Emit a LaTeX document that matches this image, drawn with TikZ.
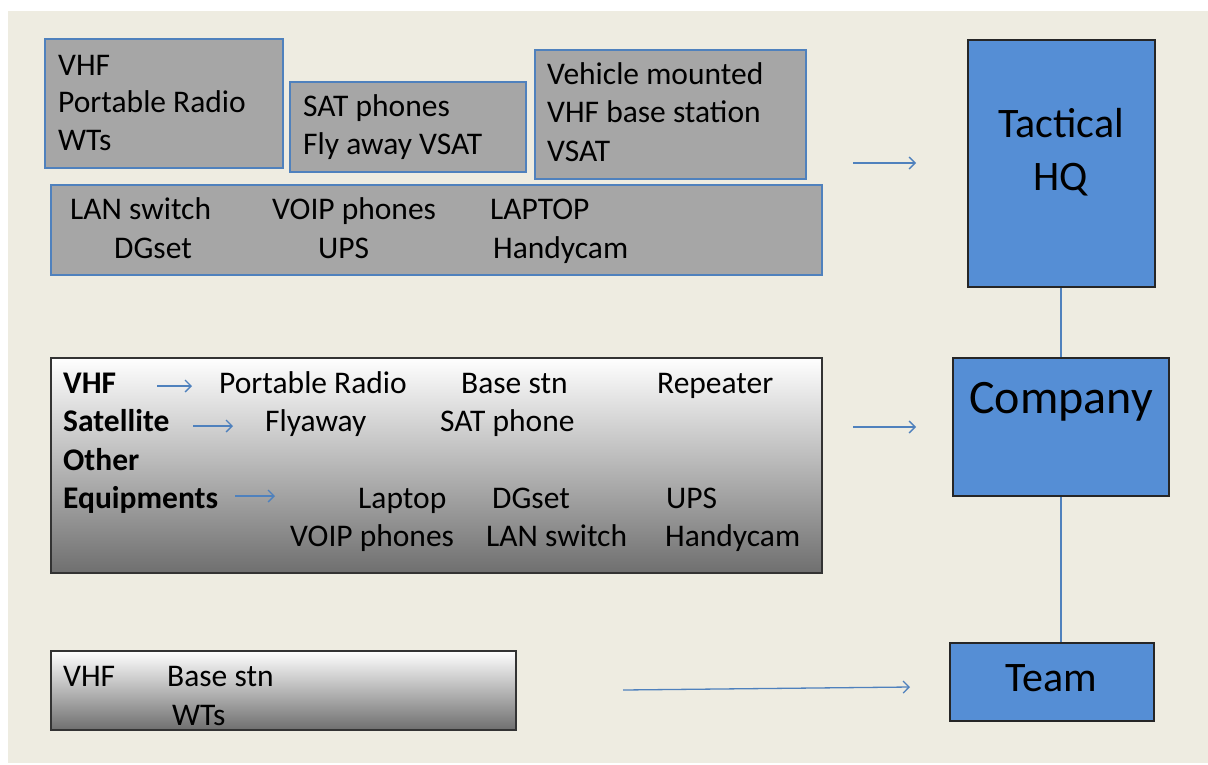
\documentclass[tikz,border=0pt]{standalone}
\usepackage{fontspec}
\setmainfont{Carlito}
\usetikzlibrary{arrows.meta}
\definecolor{bgtan}{HTML}{EEECE1}
\definecolor{boxgray}{HTML}{A6A6A6}
\definecolor{edgeblue}{HTML}{4F81BD}
\definecolor{fillblue}{HTML}{558ED5}
\definecolor{gradbot}{HTML}{6F6F6F}
\begin{document}
\begin{tikzpicture}[x=1pt,y=-1pt,
  graybox/.style={draw=edgeblue, line width=1.5pt, fill=boxgray, anchor=north west, inner sep=0pt},
  gradbox/.style={draw=black!80, line width=1.5pt, top color=white, bottom color=gradbot, anchor=north west, inner sep=0pt},
  bluebox/.style={draw=black!85, line width=2pt, fill=fillblue, anchor=north west, inner sep=0pt},
  txt/.style={anchor=base west, inner sep=0pt, font=\fontsize{31.5}{38}\selectfont},
  btxt/.style={txt, font=\fontsize{31.5}{38}\selectfont\bfseries},
  big/.style={anchor=base, inner sep=0pt, font=\fontsize{42}{50}\selectfont},
  arr/.style={draw=edgeblue, line width=1.3pt, -{Straight Barb[length=6pt,width=12pt]}},
  link/.style={draw=edgeblue, line width=1.5pt}]
\useasboundingbox (0,0) rectangle (1208,764);
\fill[white] (0,0) rectangle (1208,764);
\fill[bgtan] (8,11) rectangle (1208,763);

% top gray boxes
\node[graybox, minimum width=238pt, minimum height=129pt] (b1) at (44,38) {};
\node[graybox, minimum width=236pt, minimum height=90pt] (b2) at (289,81) {};
\node[graybox, minimum width=271pt, minimum height=129pt] (b3) at (534,49) {};
\node[graybox, minimum width=771pt, minimum height=90pt] (b4) at (50,184) {};

\node[txt] (t1a) at (58,75) {VHF};
\node[txt] (t1b) at (58,112) {Portable Radio};
\node[txt] (t1c) at (58,150) {WTs};

\node[txt] (t2a) at (303,116) {SAT phones};
\node[txt] (t2b) at (303,154) {Fly away VSAT};

\node[txt] (t3a) at (547,84) {Vehicle mounted};
\node[txt] (t3b) at (547,122) {VHF base station};
\node[txt] (t3c) at (547,161) {VSAT};

\node[txt] (t4a) at (70,219) {LAN switch};
\node[txt] (t4b) at (272,219) {VOIP phones};
\node[txt] (t4c) at (490,219) {LAPTOP};
\node[txt] (t4d) at (114,258) {DGset};
\node[txt] (t4e) at (318,258) {UPS};
\node[txt] (t4f) at (493,258) {Handycam};

% middle gradient box
\node[gradbox, minimum width=771pt, minimum height=215pt] (b5) at (50,357) {};
\node[btxt] (v5) at (63,393) {VHF};
\node[txt] (v5a) at (219,393) {Portable Radio};
\node[txt] (v5b) at (461,393) {Base stn};
\node[txt] (v5c) at (657,393) {Repeater};
\node[btxt] (s5) at (63,431) {Satellite};
\node[txt] (s5a) at (265,431) {Flyaway};
\node[txt] (s5b) at (440,431) {SAT phone};
\node[btxt] (o5) at (63,470) {Other};
\node[btxt] (e5) at (63,508) {Equipments};
\node[txt] (e5a) at (358,508) {Laptop};
\node[txt] (e5b) at (492,508) {DGset};
\node[txt] (e5c) at (666,508) {UPS};
\node[txt] (e5d) at (290,546) {VOIP phones};
\node[txt] (e5e) at (486,546) {LAN switch};
\node[txt] (e5f) at (665,546) {Handycam};

\coordinate (a1s) at (157,386); \coordinate (a1e) at (192,386);
\coordinate (a2s) at (193,426); \coordinate (a2e) at (233,426);
\coordinate (a3s) at (235,496); \coordinate (a3e) at (275,496);
\draw[arr] (a1s) -- (a1e);
\draw[arr] (a2s) -- (a2e);
\draw[arr] (a3s) -- (a3e);

% bottom gradient box
\node[gradbox, minimum width=465pt, minimum height=79pt] (b6) at (50,650) {};
\node[txt] (w6a) at (63,686) {VHF};
\node[txt] (w6b) at (167,686) {Base stn};
\node[txt] (w6c) at (172,725) {WTs};

% right blue boxes
\node[bluebox, minimum width=187pt, minimum height=247pt] (hq) at (967,39) {};
\node[big] (hqt1) at (1061,137) {Tactical};
\node[big] (hqt2) at (1061,190) {HQ};
\node[bluebox, minimum width=216pt, minimum height=138pt] (co) at (952,357) {};
\node[big, font=\fontsize{48}{56}\selectfont] (cot) at (1061,413) {Company};
\node[bluebox, minimum width=204pt, minimum height=78pt] (tm) at (949,642) {};
\node[big] (tmt) at (1051,691) {Team};

\draw[link] (hq.south -| 1061,0) -- (co.north -| 1061,0);
\draw[link] (co.south -| 1061,0) -- (tm.north -| 1061,0);

% main arrows
\coordinate (m1s) at (853,163); \coordinate (m1e) at (916,163);
\coordinate (m2s) at (853,427); \coordinate (m2e) at (916,427);
\coordinate (m3s) at (623,690); \coordinate (m3e) at (910,687);
\draw[arr] (m1s) -- (m1e);
\draw[arr] (m2s) -- (m2e);
\draw[arr] (m3s) -- (m3e);
\end{tikzpicture}
\end{document}
